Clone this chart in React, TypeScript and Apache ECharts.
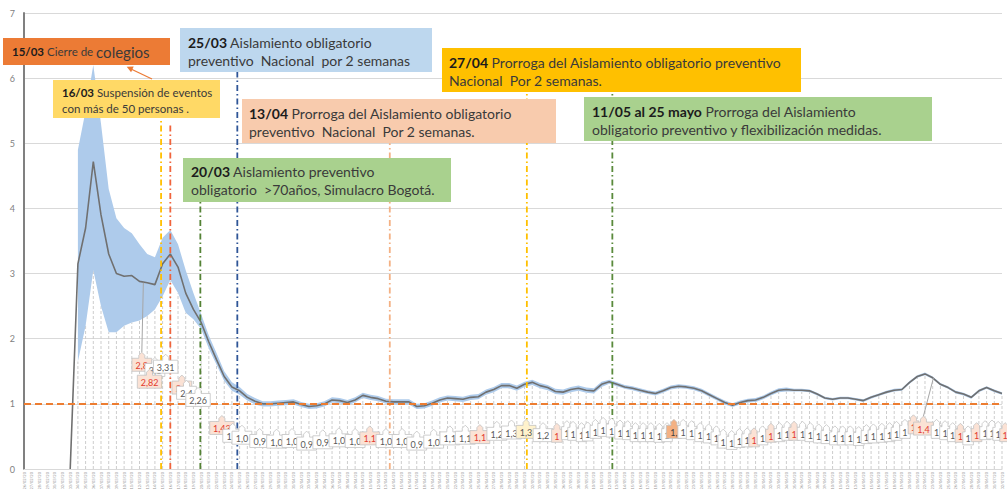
import React, { useEffect, useRef } from "react";
import * as echarts from "echarts";

// ---------- data ----------
const N_DAYS = 128;
const dateLabels: string[] = [];
for (let i = 0; i < N_DAYS; i++) {
  const d = new Date(2020, 1, 26 + i);
  const dd = String(d.getDate()).padStart(2, "0");
  const mm = String(d.getMonth() + 1).padStart(2, "0");
  dateLabels.push(`${dd}/${mm}/20`);
}

const rtMean: (number | null)[] = [
  null, null, null, null, null, null, 0, 3.15, 3.7, 4.72,
  3.9, 3.3, 3.0, 2.96, 2.97, 2.88, 2.86, 2.83, 3.15, 3.3,
  3.1, 2.7, 2.45, 2.25, 1.95, 1.68, 1.42, 1.26, 1.2, 1.1,
  1.04, 1.0, 1.0, 1.01, 1.02, 1.03, 0.99, 0.96, 0.97, 1.0,
  1.06, 1.05, 1.02, 1.06, 1.13, 1.1, 1.08, 1.04, 1.03, 1.03,
  1.03, 0.96, 0.97, 1.01, 1.06, 1.09, 1.08, 1.07, 1.1, 1.11,
  1.18, 1.22, 1.28, 1.28, 1.24, 1.3, 1.33, 1.28, 1.25, 1.19,
  1.18, 1.22, 1.24, 1.21, 1.2, 1.3, 1.34, 1.3, 1.26, 1.24,
  1.21, 1.18, 1.16, 1.2, 1.25, 1.27, 1.26, 1.24, 1.2, 1.14,
  1.08, 1.02, 0.98, 1.02, 1.05, 1.06, 1.1, 1.16, 1.21, 1.22,
  1.21, 1.21, 1.2, 1.15, 1.09, 1.07, 1.09, 1.09, 1.07, 1.05,
  1.1, 1.14, 1.18, 1.21, 1.22, 1.33, 1.42, 1.46, 1.4, 1.3,
  1.25, 1.18, 1.15, 1.1, 1.2, 1.25, 1.2, 1.16,
];

const rtLower: (number | null)[] = [
  null, null, null, null, null, null, null, 1.65, 2.2, 3.05,
  2.5, 2.1, 2.1, 2.2, 2.25, 2.28, 2.35, 2.45, 2.65, 2.9,
  2.7, 2.4, 2.3, 2.15, 1.85, 1.6, 1.35, 1.2, 1.14, 1.05,
  0.99, 0.96, 0.96, 0.97, 0.98, 0.99, 0.95, 0.92, 0.93, 0.96,
  1.02, 1.01, 0.98, 1.02, 1.09, 1.06, 1.04, 1.0, 0.99, 0.99,
  0.99, 0.92, 0.93, 0.97, 1.02, 1.05, 1.04, 1.03, 1.06, 1.07,
  1.14, 1.18, 1.24, 1.24, 1.2, 1.26, 1.29, 1.24, 1.21, 1.15,
  1.14, 1.18, 1.2, 1.17, 1.16, 1.26, 1.31, 1.27, 1.23, 1.21,
  1.18, 1.15, 1.13, 1.17, 1.22, 1.24, 1.23, 1.21, 1.17, 1.11,
  1.05, 0.99, 0.95, 0.99, 1.02, 1.03, 1.07, 1.13, 1.18, 1.19,
  1.19, 1.19, 1.18, 1.13, 1.07, 1.05, 1.07, 1.07, 1.05, 1.03,
  1.08, 1.12, 1.16, 1.19, 1.2, 1.31, 1.4, 1.44, 1.38, 1.28,
  1.23, 1.16, 1.13, 1.08, 1.18, 1.23, 1.18, 1.14,
];

const rtUpper: (number | null)[] = [
  null, null, null, null, null, null, null, 4.9, 5.5, 6.2,
  5.3, 4.3, 3.85, 3.7, 3.62, 3.45, 3.3, 3.25, 3.55, 3.67,
  3.45, 3.05, 2.7, 2.38, 2.05, 1.78, 1.5, 1.33, 1.26, 1.15,
  1.09, 1.04, 1.04, 1.05, 1.06, 1.07, 1.03, 1.0, 1.01, 1.04,
  1.1, 1.09, 1.06, 1.1, 1.17, 1.14, 1.12, 1.08, 1.07, 1.07,
  1.07, 1.0, 1.01, 1.05, 1.1, 1.13, 1.12, 1.11, 1.14, 1.15,
  1.22, 1.26, 1.32, 1.32, 1.28, 1.34, 1.37, 1.32, 1.29, 1.23,
  1.22, 1.26, 1.28, 1.25, 1.24, 1.34, 1.37, 1.33, 1.29, 1.27,
  1.24, 1.21, 1.19, 1.23, 1.28, 1.3, 1.29, 1.27, 1.23, 1.17,
  1.11, 1.05, 1.01, 1.05, 1.08, 1.09, 1.13, 1.19, 1.24, 1.25,
  1.23, 1.23, 1.22, 1.17, 1.11, 1.09, 1.11, 1.11, 1.09, 1.07,
  1.12, 1.16, 1.2, 1.23, 1.24, 1.35, 1.44, 1.48, 1.42, 1.32,
  1.27, 1.2, 1.17, 1.12, 1.22, 1.27, 1.22, 1.18,
];

const yTickValues = [0, 1, 2, 3, 4, 5, 6, 7];
const referenceRt = 1;

// event (measure) lines: position in day index, top value
const eventX = [17.8, 19.0, 22.9, 27.7, 47.5, 65.3, 76.4];
const eventTop = [5.38, 5.3, 4.1, 6.1, 5.0, 5.78, 5.78];
const eventColor = ["#ffc000", "#f0643c", "#548235", "#2f5597", "#f4b183", "#ffc000", "#5a8a3c"];

// data callouts (label position in day index / value units)
const calloutX = [
  15.3, 17.0, 18.4, 16.3, 20.5, 21.1, 22.6, 25.7, 27.1, 28.3,
  30.6, 32.8, 34.8, 36.7, 38.8, 40.9, 43.0, 44.9, 47.0, 49.1,
  51.0, 53.2, 55.3, 57.3, 59.2, 61.4, 63.3, 65.2, 67.4, 69.2,
  70.5, 71.3, 72.4, 73.2, 74.2, 75.2, 76.3, 77.4, 78.4, 79.4,
  80.4, 81.4, 82.5, 83.5, 84.4, 85.6, 86.7, 87.8, 88.9, 89.9,
  90.8, 91.9, 92.9, 93.9, 94.8, 95.9, 97.0, 98.1, 99.1, 100.0,
  101.1, 102.1, 103.2, 104.2, 105.3, 106.3, 107.3, 108.4, 109.4, 110.3,
  111.4, 112.4, 113.3, 114.4, 115.5, 116.8, 118.5, 119.6, 120.6, 121.6,
  122.6, 123.7, 124.8, 125.7, 126.5, 127.4,
];
const calloutY = [
  1.6, 1.52, 1.57, 1.34, 1.25, 1.17, 1.06, 0.63, 0.51, 0.48,
  0.43, 0.42, 0.43, 0.39, 0.41, 0.44, 0.43, 0.47, 0.43, 0.43,
  0.39, 0.42, 0.47, 0.48, 0.49, 0.54, 0.56, 0.57, 0.52, 0.51,
  0.55, 0.54, 0.52, 0.53, 0.57, 0.6, 0.59, 0.56, 0.55, 0.52,
  0.52, 0.52, 0.51, 0.52, 0.57, 0.57, 0.55, 0.52, 0.5, 0.47,
  0.42, 0.4, 0.43, 0.44, 0.44, 0.47, 0.51, 0.52, 0.54, 0.54,
  0.54, 0.52, 0.5, 0.49, 0.47, 0.47, 0.47, 0.46, 0.49, 0.5,
  0.51, 0.52, 0.54, 0.57, 0.64, 0.62, 0.57, 0.55, 0.52, 0.51,
  0.47, 0.52, 0.55, 0.56, 0.54, 0.52,
];
const calloutText = [
  "2,8", "3,1", "3,31", "2,82", "2,7", "2,4", "2,26", "1,43", "1,2", "1,0",
  "0,9", "1,0", "1,0", "0,9", "0,9", "1,0", "1,0", "1,1", "1,0", "1,0",
  "0,9", "1,0", "1,1", "1,1", "1,1", "1,2", "1,3", "1,3", "1,2", "1",
  "1", "1", "1", "1", "1", "1", "1", "1", "1", "1",
  "1", "1", "1", "1", "1,", "1", "1", "1", "1", "1",
  "1", "1", "1", "1", "1", "1", "1", "1", "1", "1",
  "1", "1", "1", "1", "1", "1", "1", "1", "1", "1",
  "1", "1", "1", "1", "1", "1,4", "1", "1", "1", "1",
  "1", "1", "1", "1", "1", "1",
];
// w = white, h = highlighted (red), o = orange, l = light yellow
const calloutKind = [
  "h", "w", "w", "h", "h", "w", "w", "h", "w", "w",
  "w", "w", "w", "w", "w", "w", "w", "h", "w", "w",
  "w", "w", "w", "w", "h", "w", "w", "l", "w", "h",
  "w", "w", "w", "w", "w", "w", "w", "w", "w", "w",
  "w", "w", "w", "w", "o", "w", "w", "w", "w", "w",
  "w", "w", "w", "w", "h", "w", "h", "w", "w", "h",
  "w", "w", "w", "w", "w", "w", "w", "w", "w", "w",
  "w", "w", "w", "w", "h", "h", "w", "w", "w", "h",
  "w", "h", "w", "w", "w", "h",
];
// leader lines: callout index -> point on the curve
const leaderFrom = [0, 75];
const leaderToX = [15.5, 118.1];
const leaderToY = [2.86, 1.4];

// ---------- annotation boxes (layout) ----------
type Ann = { x: number; y: number; w: number; h: number; fill: string; tx: number; ty: number; text: string; fs: number; lh: number };
const annotations: Ann[] = [
  { x: 3, y: 38, w: 167, h: 27, fill: "#ec7b35", tx: 12, ty: 42.5, text: "{b|15/03} Cierre de {l|colegios}", fs: 11.5, lh: 18 },
  { x: 53, y: 80, w: 167, h: 38, fill: "#ffd966", tx: 62, ty: 84, text: "{b|16/03} Suspensión de eventos\ncon más de 50 personas .", fs: 11.5, lh: 16 },
  { x: 180, y: 28, w: 252, h: 44, fill: "#bdd7ee", tx: 188, ty: 33, text: "{b|25/03} Aislamiento obligatorio\npreventivo  Nacional  por 2 semanas", fs: 14, lh: 18 },
  { x: 242, y: 99, w: 314, h: 44, fill: "#f8cbad", tx: 249, ty: 104, text: "{b|13/04} Prorroga del Aislamiento obligatorio\npreventivo  Nacional  Por 2 semanas.", fs: 14, lh: 18 },
  { x: 183, y: 158, w: 268, h: 44, fill: "#a9d18e", tx: 191, ty: 162, text: "{b|20/03} Aislamiento preventivo\nobligatorio  >70años, Simulacro Bogotá.", fs: 14, lh: 18 },
  { x: 442, y: 48, w: 359, h: 44, fill: "#ffc000", tx: 449, ty: 53, text: "{b|27/04} Prorroga del Aislamiento obligatorio preventivo\nNacional  Por 2 semanas.", fs: 14, lh: 18 },
  { x: 584, y: 97, w: 348, h: 44, fill: "#a9d18e", tx: 592, ty: 102, text: "{b|11/05 al 25 mayo} Prorroga del Aislamiento\nobligatorio preventivo y flexibilización medidas.", fs: 14, lh: 18 },
];

const FONT = "Lato";

export default function App() {
  const ref = useRef<HTMLDivElement>(null);
  useEffect(() => {
    if (!ref.current) return;
    const chart = echarts.init(ref.current, undefined, { renderer: "svg" });

    const bandSpan = rtUpper.map((u, i) => (u == null || rtLower[i] == null ? null : +(u - (rtLower[i] as number)).toFixed(3)));
    const dropData = rtLower.map((v, i) => (v == null ? null : [i, v])).filter((d) => d != null);
    const eventData = eventX.map((x, k) => [x, eventTop[k]]);
    const calloutData = calloutX.map((x, k) => [x, calloutY[k]]);

    const graphic: any[] = [];
    annotations.forEach((a) => {
      graphic.push({ type: "rect", z: 100, shape: { x: a.x, y: a.y, width: a.w, height: a.h }, style: { fill: a.fill } });
      graphic.push({
        type: "text", z: 101, x: a.tx, y: a.ty,
        style: {
          text: a.text, fill: "#3a3a3a", fontSize: a.fs, fontFamily: FONT, lineHeight: a.lh,
          align: "left", verticalAlign: "top",
          rich: {
            b: { fontWeight: "bold", fontSize: a.fs, fontFamily: FONT, fill: "#1c1c1c", lineHeight: a.lh },
            l: { fontSize: 15, fontFamily: FONT, fill: "#3a3a3a", lineHeight: a.lh },
          },
        },
      });
    });
    // arrow between the 16/03 box and the 15/03 box
    graphic.push({ type: "polyline", z: 102, shape: { points: [[152, 79], [131, 69]] }, style: { stroke: "#ec7b35", lineWidth: 1.3, fill: null } });
    graphic.push({ type: "polygon", z: 102, shape: { points: [[126.7, 66.7], [133.7, 66.6], [131.1, 72.3]] }, style: { fill: "#ec7b35" } });

    const kindFill: Record<string, string> = { w: "#ffffff", h: "#fbe2d5", o: "#f4b183", l: "#fff2cc" };
    const kindText: Record<string, string> = { w: "#595959", h: "#e23b2e", o: "#404040", l: "#595959" };

    chart.setOption({
      animation: false,
      backgroundColor: "#ffffff",
      grid: { left: 24, right: 5, top: 13, bottom: 20, containLabel: false, outerBoundsMode: "none" },
      xAxis: [
        {
          type: "category", data: dateLabels, boundaryGap: false,
          axisLine: { show: true, lineStyle: { color: "#d9d9d9" } },
          axisTick: { show: false },
          axisLabel: { interval: 0, rotate: 90, fontSize: 4, color: "#9a9a9a", margin: 3, fontFamily: FONT },
          splitLine: { show: false },
        },
        { type: "value", min: 0, max: N_DAYS - 1, show: false, gridIndex: 0 },
      ],
      yAxis: {
        type: "value", min: yTickValues[0], max: yTickValues[yTickValues.length - 1], interval: 1,
        axisLine: { show: true, lineStyle: { color: "#808080", width: 2 } },
        axisTick: { show: false },
        axisLabel: { fontSize: 9, color: "#7f7f7f", margin: 9, fontFamily: FONT },
        splitLine: { show: true, lineStyle: { color: "#d9d9d9", width: 1 } },
      },
      graphic,
      series: [
        {
          type: "custom", name: "drops", xAxisIndex: 1, z: 1, silent: true,
          data: dropData,
          renderItem: (_p: any, api: any) => {
            const x = api.value(0), v = api.value(1);
            const p0 = api.coord([x, 0]);
            const p1 = api.coord([x, v]);
            return { type: "line", shape: { x1: p0[0], y1: p0[1], x2: p1[0], y2: p1[1] }, style: { stroke: "#cdcdcd", lineWidth: 1, lineDash: [3, 2] } };
          },
        },
        {
          type: "line", name: "lower", data: rtLower, stack: "band", symbol: "none", z: 2,
          lineStyle: { opacity: 0 }, silent: true,
        },
        {
          type: "line", name: "band", data: bandSpan, stack: "band", symbol: "none", z: 2,
          lineStyle: { opacity: 0 }, areaStyle: { color: "#aecbeb", opacity: 1 }, silent: true,
        },
        {
          type: "line", name: "Rt", data: rtMean, symbol: "none", z: 3,
          lineStyle: { color: "#707070", width: 1.6 },
          markLine: {
            silent: true, symbol: "none", label: { show: false },
            lineStyle: { color: "#ed7d31", type: [7, 4], width: 2 },
            data: [{ yAxis: referenceRt }],
          },
        },
        {
          type: "custom", name: "events", xAxisIndex: 1, z: 4, silent: true,
          data: eventData,
          renderItem: (params: any, api: any) => {
            const x = api.value(0), top = api.value(1);
            const p0 = api.coord([x, 0]);
            const p1 = api.coord([x, top]);
            return {
              type: "line", shape: { x1: p0[0], y1: p0[1], x2: p1[0], y2: p1[1] },
              style: { stroke: eventColor[params.dataIndex], lineWidth: 1.8, lineDash: [6, 3, 1.5, 3] },
            };
          },
        },
        {
          type: "custom", name: "callouts", xAxisIndex: 1, z: 5, silent: true,
          data: calloutData,
          renderItem: (params: any, api: any) => {
            const k = params.dataIndex;
            const p = api.coord([api.value(0), api.value(1)]);
            const txt = calloutText[k];
            const kind = calloutKind[k];
            const w = txt.length * 4.6 + 6;
            const h = 13;
            const l = p[0] - w / 2, r = p[0] + w / 2, t = p[1] - h / 2, b = p[1] + h / 2;
            const cx = p[0];
            const pts = [[l, t], [cx - 3, t], [cx - 3, t - 3], [cx, t - 6], [cx + 3, t - 3], [cx + 3, t], [r, t], [r, b], [l, b]];
            const children: any[] = [];
            const li = leaderFrom.indexOf(k);
            if (li >= 0) {
              const q = api.coord([leaderToX[li], leaderToY[li]]);
              children.push({ type: "line", shape: { x1: cx, y1: t - 6, x2: q[0], y2: q[1] }, style: { stroke: "#a6a6a6", lineWidth: 1 } });
            }
            children.push({ type: "polygon", shape: { points: pts }, style: { fill: kindFill[kind], stroke: "#c3c3c3", lineWidth: 0.8 } });
            children.push({
              type: "text", x: cx, y: p[1] + 0.5,
              style: { text: txt, fill: kindText[kind], fontSize: 9, fontFamily: FONT, align: "center", verticalAlign: "middle", textAlign: "center", textVerticalAlign: "middle" },
            });
            return { type: "group", children };
          },
        },
      ],
    });
    return () => chart.dispose();
  }, []);
  return <div ref={ref} style={{ position: "fixed", left: 0, top: 0, width: 1007, height: 489, background: "#fff" }} />;
}
